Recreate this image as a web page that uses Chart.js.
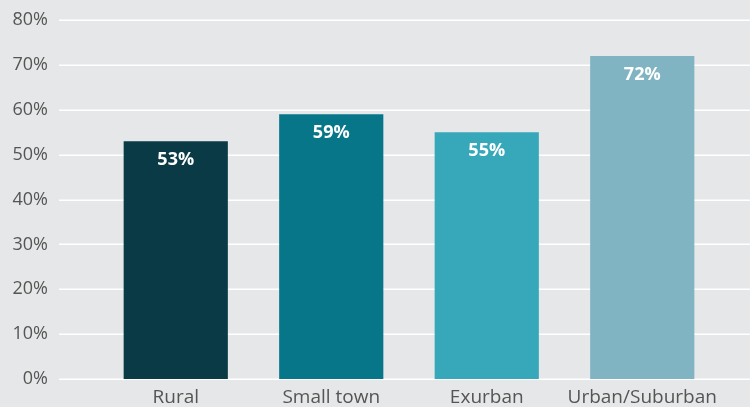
<!DOCTYPE html>
<html>
<head>
<meta charset="utf-8">
<script src="https://cdn.jsdelivr.net/npm/chart.js@4/dist/chart.umd.min.js"></script>
<style>
  html, body { margin: 0; padding: 0; background: #e6e7e8; }
  #wrap { width: 750px; height: 407px; position: relative; }
</style>
</head>
<body>
<div id="wrap"><canvas id="c" width="750" height="407"></canvas></div>
<script>
const categories = ['Rural', 'Small town', 'Exurban', 'Urban/Suburban'];
const values = [53, 59, 55, 72];
const barColors = ['#0a3a46', '#077689', '#36a8ba', '#80b4c2'];
const yTicks = [0, 10, 20, 30, 40, 50, 60, 70, 80];

const bgPlugin = {
  id: 'bg',
  beforeDraw(chart) {
    const ctx = chart.ctx;
    ctx.save();
    ctx.fillStyle = '#e6e7e8';
    ctx.fillRect(0, 0, chart.width, chart.height);
    ctx.restore();
  },
  beforeDatasetsDraw(chart) {
    const ctx = chart.ctx;
    const y = chart.scales.y;
    ctx.save();
    ctx.strokeStyle = '#ffffff';
    ctx.lineWidth = 1.5;
    y.ticks.forEach(t => {
      const py = Math.round(y.getPixelForValue(t.value)) + 0.25;
      ctx.beginPath();
      ctx.moveTo(59, py);
      ctx.lineTo(chart.width, py);
      ctx.stroke();
    });
    ctx.restore();
  }
};

const labelPlugin = {
  id: 'vals',
  afterDatasetsDraw(chart) {
    const ctx = chart.ctx;
    const meta = chart.getDatasetMeta(0);
    ctx.save();
    ctx.fillStyle = '#ffffff';
    ctx.font = 'bold 18px "Open Sans"';
    ctx.textAlign = 'center';
    ctx.textBaseline = 'middle';
    meta.data.forEach((bar, i) => {
      ctx.fillText(values[i] + '%', bar.x, bar.y + 19);
    });
    ctx.restore();
  }
};

new Chart(document.getElementById('c'), {
  type: 'bar',
  data: {
    labels: categories,
    datasets: [{
      data: values,
      backgroundColor: barColors,
      borderWidth: 0,
      categoryPercentage: 1,
      barPercentage: 0.67
    }]
  },
  options: {
    responsive: false,
    animation: false,
    devicePixelRatio: 1,
    layout: { padding: { top: 20, right: 30, left: 0, bottom: 0 } },
    plugins: { legend: { display: false }, tooltip: { enabled: false } },
    scales: {
      x: {
        grid: { display: false, drawTicks: false },
        border: { display: false },
        ticks: {
          color: '#555555',
          font: { family: '"Open Sans"', size: 19 },
          padding: 7,
          maxRotation: 0
        },
        afterFit(s) { s.height = 28; s.paddingLeft = 0; s.paddingRight = 0; }
      },
      y: {
        min: 0,
        max: 80,
        afterBuildTicks(s) { s.ticks = yTicks.map(v => ({ value: v })); },
        grid: { display: false, drawTicks: false },
        border: { display: false },
        ticks: {
          color: '#555555',
          font: { family: '"Open Sans"', size: 18 },
          padding: 50,
          callback: v => v + '%'
        },
        afterFit(s) { s.width = 98; s.paddingTop = 0; s.paddingBottom = 0; }
      }
    }
  },
  plugins: [bgPlugin, labelPlugin]
});
</script>
</body>
</html>
